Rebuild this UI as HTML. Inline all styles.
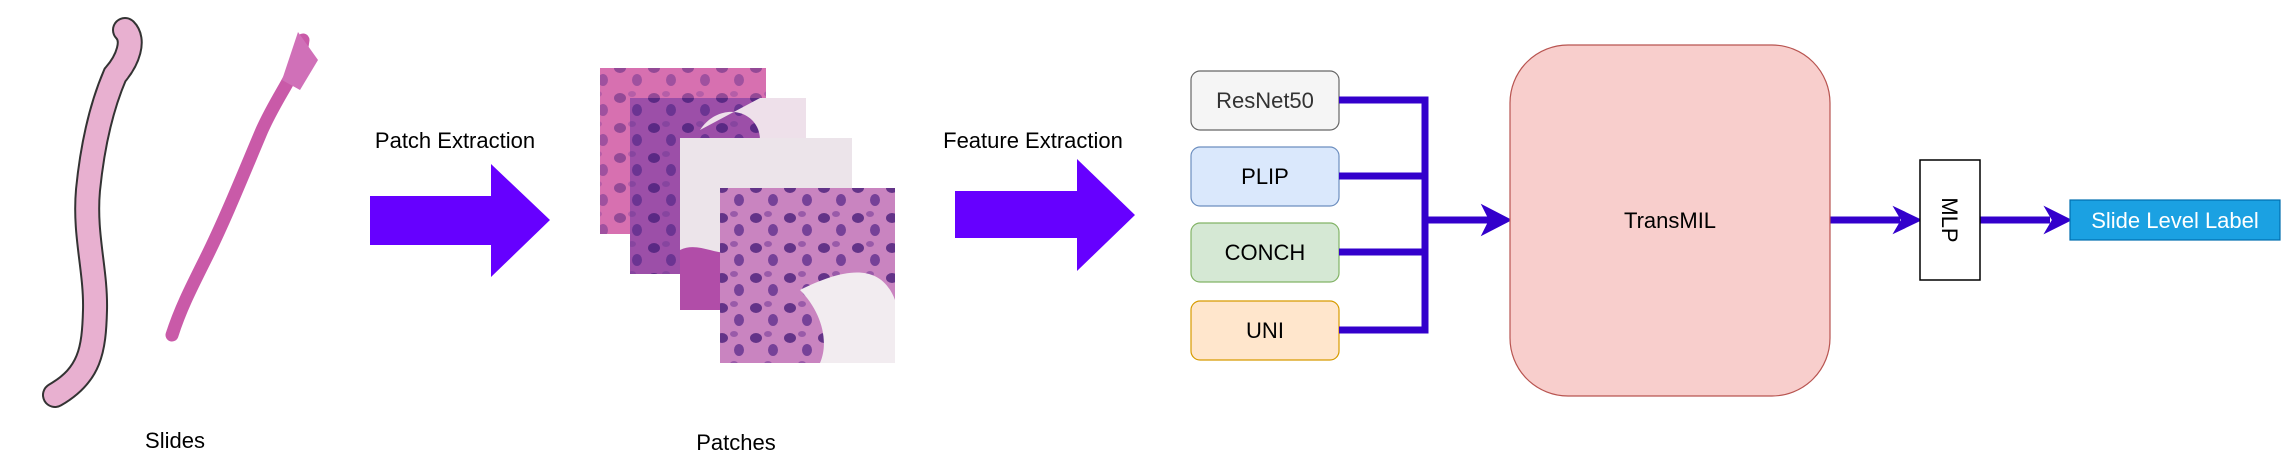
<!DOCTYPE html>
<html><head><meta charset="utf-8"><style>
html,body{margin:0;padding:0;background:#fff;width:2291px;height:470px;overflow:hidden}
svg{display:block}
text{font-family:"Liberation Sans",Arial,sans-serif}
</style></head><body>
<svg width="2291" height="470" viewBox="0 0 2291 470" xmlns="http://www.w3.org/2000/svg">
<defs>
<pattern id="nuc" width="34" height="30" patternUnits="userSpaceOnUse">
<ellipse cx="8" cy="8" rx="6" ry="5" fill="#4a1f7a" opacity="0.8"/>
<ellipse cx="25" cy="20" rx="5" ry="6" fill="#5a2a8a" opacity="0.75"/>
<ellipse cx="20" cy="4" rx="4" ry="3" fill="#7a3d9a" opacity="0.6"/>
</pattern>
</defs>

<!-- Slides -->
<path d="M125,30 C135,40 128,60 115,75 C100,110 92,150 88,190 C84,235 96,270 95,310 C94,350 90,375 55,395" fill="none" stroke="#333" stroke-width="26" stroke-linecap="round"/>
<path d="M125,30 C135,40 128,60 115,75 C100,110 92,150 88,190 C84,235 96,270 95,310 C94,350 90,375 55,395" fill="none" stroke="#e8b0d0" stroke-width="22" stroke-linecap="round"/>
<path d="M303,40 C300,70 280,90 262,130 C245,170 225,220 205,260 C190,290 180,310 172,335" fill="none" stroke="#c95aa8" stroke-width="13" stroke-linecap="round"/>
<path d="M298,32 L318,60 L300,90 L282,80 Z" fill="#d070b8"/>

<text x="175" y="448" font-size="22" text-anchor="middle" fill="#000">Slides</text>

<!-- Arrow 1 -->
<text x="455" y="148" font-size="22" text-anchor="middle" fill="#000">Patch Extraction</text>
<polygon points="370,196 491,196 491,164 550,220 491,277 491,245 370,245" fill="#6600ff"/>

<!-- Patches -->
<rect x="600" y="68" width="166" height="166" fill="#d770b0"/>
<rect x="600" y="68" width="166" height="166" fill="url(#nuc)" opacity="0.6"/>
<rect x="630" y="98" width="176" height="176" fill="#9c4fa8"/>
<rect x="630" y="98" width="176" height="176" fill="url(#nuc)"/>
<path d="M700,130 C720,100 760,110 760,140 L806,140 L806,98 L760,98 Z" fill="#eee0ea"/>
<rect x="680" y="138" width="172" height="172" fill="#ece4ea"/>
<path d="M680,250 C700,240 720,260 740,250 L740,310 L680,310 Z" fill="#b14da8"/>
<rect x="720" y="188" width="175" height="175" fill="#c984c0"/>
<rect x="720" y="188" width="175" height="175" fill="url(#nuc)"/>
<path d="M800,290 C840,270 880,260 895,300 L895,363 L820,363 C830,340 820,310 800,290 Z" fill="#f2ecf0"/>

<text x="736" y="450" font-size="22" text-anchor="middle" fill="#000">Patches</text>

<!-- Arrow 2 -->
<text x="1033" y="148" font-size="22" text-anchor="middle" fill="#000">Feature Extraction</text>
<polygon points="955,191 1077,191 1077,159 1135,215 1077,271 1077,238 955,238" fill="#6600ff"/>

<!-- Encoders -->
<rect x="1191" y="71" width="148" height="59" rx="9" fill="#f5f5f5" stroke="#666" stroke-width="1.2"/>
<text x="1265" y="108" font-size="22" text-anchor="middle" fill="#333">ResNet50</text>
<rect x="1191" y="147" width="148" height="59" rx="9" fill="#dae8fc" stroke="#6c8ebf" stroke-width="1.2"/>
<text x="1265" y="184" font-size="22" text-anchor="middle" fill="#000">PLIP</text>
<rect x="1191" y="223" width="148" height="59" rx="9" fill="#d5e8d4" stroke="#82b366" stroke-width="1.2"/>
<text x="1265" y="260" font-size="22" text-anchor="middle" fill="#000">CONCH</text>
<rect x="1191" y="301" width="148" height="59" rx="9" fill="#ffe6cc" stroke="#d79b00" stroke-width="1.2"/>
<text x="1265" y="338" font-size="22" text-anchor="middle" fill="#000">UNI</text>

<!-- Connectors -->
<g stroke="#3300cc" stroke-width="7" fill="none">
<polyline points="1339,100 1425,100 1425,330 1339,330"/>
<line x1="1339" y1="176" x2="1425" y2="176"/>
<line x1="1339" y1="252" x2="1425" y2="252"/>
<line x1="1425" y1="220" x2="1490" y2="220"/>
<line x1="1830" y1="220" x2="1900" y2="220"/>
<line x1="1980" y1="220" x2="2050" y2="220"/>
</g>
<polygon points="1510,220 1483,206 1490,220 1483,234" fill="#3300cc" stroke="#3300cc" stroke-width="2"/>
<polygon points="1920,220 1895,208 1902,220 1895,232" fill="#3300cc" stroke="#3300cc" stroke-width="2"/>
<polygon points="2070,220 2046,208 2053,220 2046,232" fill="#3300cc" stroke="#3300cc" stroke-width="2"/>

<!-- TransMIL -->
<rect x="1510" y="45" width="320" height="351" rx="58" fill="#f8cecc" stroke="#b85450" stroke-width="1.2"/>
<text x="1670" y="228" font-size="22" text-anchor="middle" fill="#000">TransMIL</text>

<!-- MLP -->
<rect x="1920" y="160" width="60" height="120" fill="#fff" stroke="#000" stroke-width="1.5"/>
<text x="0" y="0" font-size="22" text-anchor="middle" fill="#000" transform="translate(1942,220) rotate(90)">MLP</text>

<!-- Label -->
<rect x="2070" y="200" width="210" height="40" fill="#1ba1e2" stroke="#006eaf" stroke-width="1.2"/>
<text x="2175" y="228" font-size="22" text-anchor="middle" fill="#fff">Slide Level Label</text>
</svg>
</body></html>
